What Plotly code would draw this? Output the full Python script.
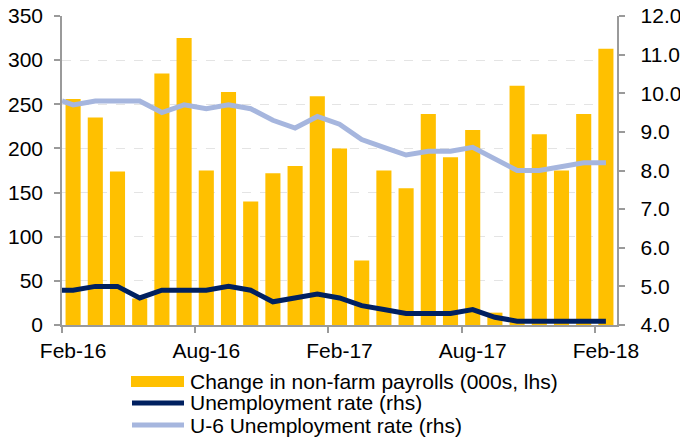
import plotly.graph_objects as go

months = ["Feb-16","Mar-16","Apr-16","May-16","Jun-16","Jul-16","Aug-16","Sep-16","Oct-16","Nov-16","Dec-16","Jan-17",
          "Feb-17","Mar-17","Apr-17","May-17","Jun-17","Jul-17","Aug-17","Sep-17","Oct-17","Nov-17","Dec-17","Jan-18","Feb-18"]
payrolls = [256, 235, 174, 30, 285, 325, 175, 264, 140, 172, 180, 259,
            200, 73, 175, 155, 239, 190, 221, 14, 271, 216, 175, 239, 313]
# line series: first value sits at the left edge of the axis (Jan-16 close)
line_pos = [-0.5] + list(range(len(months)))
unemp = [4.9, 4.9, 5.0, 5.0, 4.7, 4.9, 4.9, 4.9, 5.0, 4.9, 4.6, 4.7, 4.8,
         4.7, 4.5, 4.4, 4.3, 4.3, 4.3, 4.4, 4.2, 4.1, 4.1, 4.1, 4.1, 4.1]
u6 = [9.8, 9.7, 9.8, 9.8, 9.8, 9.5, 9.7, 9.6, 9.7, 9.6, 9.3, 9.1, 9.4,
      9.2, 8.8, 8.6, 8.4, 8.5, 8.5, 8.6, 8.3, 8.0, 8.0, 8.1, 8.2, 8.2]
label_idx = [0, 6, 12, 18, 24]
left_ticks = [0, 50, 100, 150, 200, 250, 300, 350]
right_ticks = [4, 5, 6, 7, 8, 9, 10, 11, 12]
series_names = ["Change in non-farm payrolls (000s, lhs)",
                "Unemployment rate (rhs)",
                "U-6 Unemployment rate (rhs)"]
colors = ["#FFC000", "#002060", "#A6B6DE"]

FONT = "Liberation Sans, Arial, sans-serif"
AX = "#9a9a9a"
W, H = 680, 439
L, R, T, B = 62, 63, 16, 114
PW, PH = W - L - R, H - T - B

def px_x(p):
    return (p - L) / PW

def px_y(p):
    return (H - B - p) / PH

fig = go.Figure()
fig.add_trace(go.Bar(x=list(range(len(months))), y=payrolls, width=0.68,
                     marker=dict(color=colors[0], line=dict(width=0)),
                     name=series_names[0]))
fig.add_trace(go.Scatter(x=line_pos, y=unemp, yaxis="y2", mode="lines",
                         line=dict(color=colors[1], width=5),
                         name=series_names[1]))
fig.add_trace(go.Scatter(x=line_pos, y=u6, yaxis="y2", mode="lines",
                         line=dict(color=colors[2], width=5),
                         name=series_names[2]))

# legend drawn below the plot (wide swatches as in the reference)
shapes = [dict(type="rect", xref="paper", yref="paper",
               x0=px_x(131), x1=px_x(184), y0=px_y(387), y1=px_y(376),
               fillcolor=colors[0], line=dict(width=0))]
for c, yy in zip(colors[1:], [403, 425]):
    shapes.append(dict(type="line", xref="paper", yref="paper",
                       x0=px_x(132), x1=px_x(184), y0=px_y(yy), y1=px_y(yy),
                       line=dict(color=c, width=5)))
annotations = []
for name, yy in zip(series_names, [381, 403, 425]):
    annotations.append(dict(text=name, xref="paper", yref="paper",
                            x=px_x(188), y=px_y(yy), xanchor="left", yanchor="middle",
                            showarrow=False, font=dict(size=21, family=FONT, color="#000")))

fig.update_layout(
    width=W, height=H,
    margin=dict(l=L, r=R, t=T, b=B, autoexpand=False),
    paper_bgcolor="white", plot_bgcolor="white",
    font=dict(family=FONT, size=21, color="#000000"),
    showlegend=False,
    shapes=shapes, annotations=annotations,
    xaxis=dict(range=[-0.5, len(months) - 0.5], tickmode="array",
               tickvals=label_idx, ticktext=[months[i] for i in label_idx],
               ticks="", showgrid=False, zeroline=False,
               showline=True, linecolor=AX, linewidth=1.5,
               ticklabelstandoff=6,
               minor=dict(tickmode="array", tickvals=[i - 0.5 for i in label_idx],
                          ticks="outside", ticklen=6, tickcolor=AX, tickwidth=1.5,
                          showgrid=False)),
    yaxis=dict(range=[0, 350], tickmode="array", tickvals=left_ticks,
               ticks="outside", ticklen=6, tickcolor=AX, tickwidth=1.5,
               showline=True, linecolor=AX, linewidth=1.5,
               showgrid=True, gridcolor="#e4e4e4", griddash="dash", gridwidth=1,
               zeroline=False, ticklabelstandoff=7),
    yaxis2=dict(range=[4, 12], overlaying="y", side="right", tickmode="array",
                tickvals=right_ticks,
                ticktext=["\u00a0\u00a0" + f"{v:.1f}" for v in right_ticks],
                ticks="outside", ticklen=6, tickcolor=AX, tickwidth=1.5,
                showline=True, linecolor=AX, linewidth=1.5,
                showgrid=False, zeroline=False),
)

fig.write_html("out.html", config={"displayModeBar": False},
               post_script="document.body.style.margin='0';document.body.style.overflow='hidden';")
